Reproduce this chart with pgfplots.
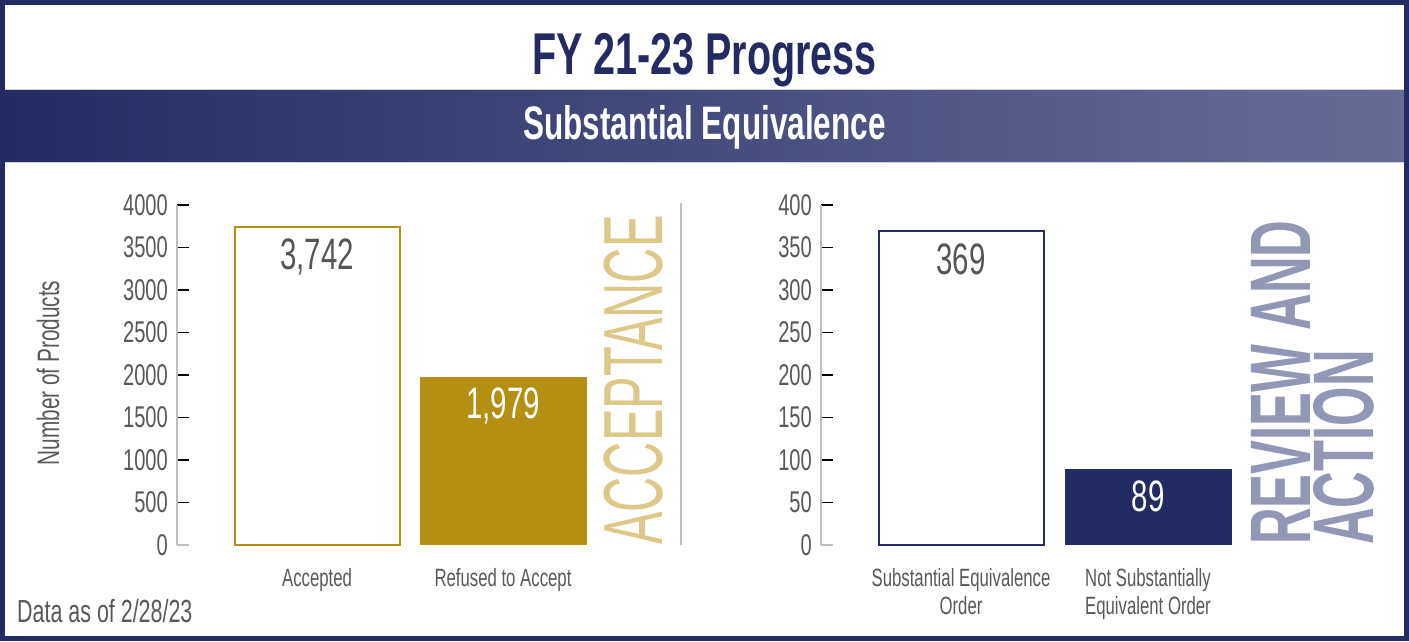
\documentclass[border=0pt]{standalone}
\usepackage{pgfplots}
\pgfplotsset{compat=1.18}
\usepackage{fontspec}
\setmainfont{Liberation Sans}[FakeStretch=0.67]
\newfontfamily\acfont{Liberation Sans}[FakeStretch=0.58]
\newfontfamily\rvfont{Liberation Sans}[FakeStretch=0.59]
\definecolor{fdanavy}{RGB}{36,43,99}
\definecolor{bandleft}{RGB}{37,44,100}
\definecolor{bandright}{RGB}{103,108,151}
\definecolor{gold}{RGB}{181,143,18}
\definecolor{acgold}{RGB}{220,201,138}
\definecolor{rvslate}{RGB}{145,151,181}
\definecolor{txtgray}{RGB}{88,89,91}
\definecolor{numgray}{RGB}{85,85,85}
\definecolor{axisgray}{RGB}{190,190,190}

\pgfplotsset{
  sechart/.style={
    anchor=south west, scale only axis, height=340pt,
    axis x line*=bottom, axis y line*=left,
    x axis line style={draw=none},
    y axis line style={draw=axisgray, line width=1.3pt},
    xtick style={draw=none},
    ytick style={draw=black, line width=1.3pt},
    tick align=inside, major tick length=12pt,
    extra y ticks={0},
    extra y tick style={ytick style={draw=axisgray, line width=1.3pt}},
    /pgf/number format/assume math mode=true,
    /pgf/number format/1000 sep={},
    yticklabel style={font=\fontsize{30}{30}\selectfont, text=txtgray, inner sep=0pt, xshift=-9pt},
    xticklabel style={font=\fontsize{25}{28}\selectfont, text=txtgray, inner sep=0pt, yshift=-23pt, align=center},
    clip=false,
  },
  barlabel/.style={
    nodes near coords={\pgfmathprintnumber[1000 sep={,}]{\pgfplotspointmeta}},
    nodes near coords align={below},
    every node near coord/.append style={font=\fontsize{44}{44}\selectfont, inner sep=0pt, yshift=-11pt, text=#1},
  },
}

\begin{document}
\begin{tikzpicture}
\begin{scope}[x=1pt,y=1pt]
  \useasboundingbox (0,0) rectangle (1409,641);
  \fill[white] (0,0) rectangle (1409,641);
  % banner
  \shade[left color=bandleft, right color=bandright] (4,479) rectangle (1405,551);
  \draw[line width=1.5pt, color=axisgray!70] (4,551.5) -- (1405,551.5);
  \draw[line width=1.5pt, color=axisgray!70] (4,478.5) -- (1405,478.5);
  % frame
  \draw[line width=5pt, color=fdanavy] (2.5,2.5) rectangle (1406.5,638.5);
  % separator
  \draw[line width=1.5pt, color=axisgray] (681,96) -- (681,438);
\end{scope}

% Acceptance
\begin{axis}[sechart,
  at={(177pt,96pt)}, width=493pt,
  xmin=0, xmax=493, ymin=0, ymax=4000,
  xtick={140,326}, xticklabels={Accepted,Refused to Accept},
  ytick={500,1000,...,4000},
]
  \addplot[ybar, bar width=165pt, bar shift=0pt, draw=gold, fill=white, line width=2pt, barlabel=numgray]
    coordinates {(140,3742)};
  \addplot[ybar, bar width=167pt, bar shift=0pt, draw=none, fill=gold, barlabel=white]
    coordinates {(326,1979)};
\end{axis}

% Review and action
\begin{axis}[sechart,
  at={(821pt,96pt)}, width=420pt,
  xmin=0, xmax=420, ymin=0, ymax=400,
  xtick={140,327}, xticklabels={Substantial Equivalence\\Order,Not Substantially\\Equivalent Order},
  ytick={50,100,...,400},
]
  \addplot[ybar, bar width=165pt, bar shift=0pt, draw=fdanavy, fill=white, line width=2pt, barlabel=numgray]
    coordinates {(140,369)};
  \addplot[ybar, bar width=167pt, bar shift=0pt, draw=none, fill=fdanavy, barlabel=white]
    coordinates {(327,89)};
\end{axis}

\begin{scope}[x=1pt,y=1pt]
  \node[anchor=base, inner sep=0pt, font=\bfseries\fontsize{59}{59}\selectfont, text=fdanavy]
    at (704.5,566) {FY 21-23 Progress};
  \node[anchor=base, inner sep=0pt, font=\bfseries\fontsize{47}{47}\selectfont, text=white]
    at (704.5,501) {Substantial Equivalence};
  \node[rotate=90, inner sep=0pt, font=\fontsize{31}{31}\selectfont, text=txtgray]
    at (48,268) {Number of Products};
  \node[anchor=base west, inner sep=0pt, font=\fontsize{32}{32}\selectfont, text=txtgray]
    at (17,19) {Data as of 2/28/23};
  \node[rotate=90, anchor=base west, inner sep=0pt, font=\acfont\fontsize{84}{84}\selectfont, text=acgold]
    at (662,96) {ACCEPTANCE};
  \node[rotate=90, anchor=base west, inner sep=0pt, font=\rvfont\bfseries\fontsize{86}{86}\selectfont, text=rvslate]
    at (1310,96) {REVIEW AND};
  \node[rotate=90, anchor=base west, inner sep=0pt, font=\rvfont\bfseries\fontsize{86}{86}\selectfont, text=rvslate]
    at (1373,96) {ACTION};
\end{scope}
\end{tikzpicture}
\end{document}
